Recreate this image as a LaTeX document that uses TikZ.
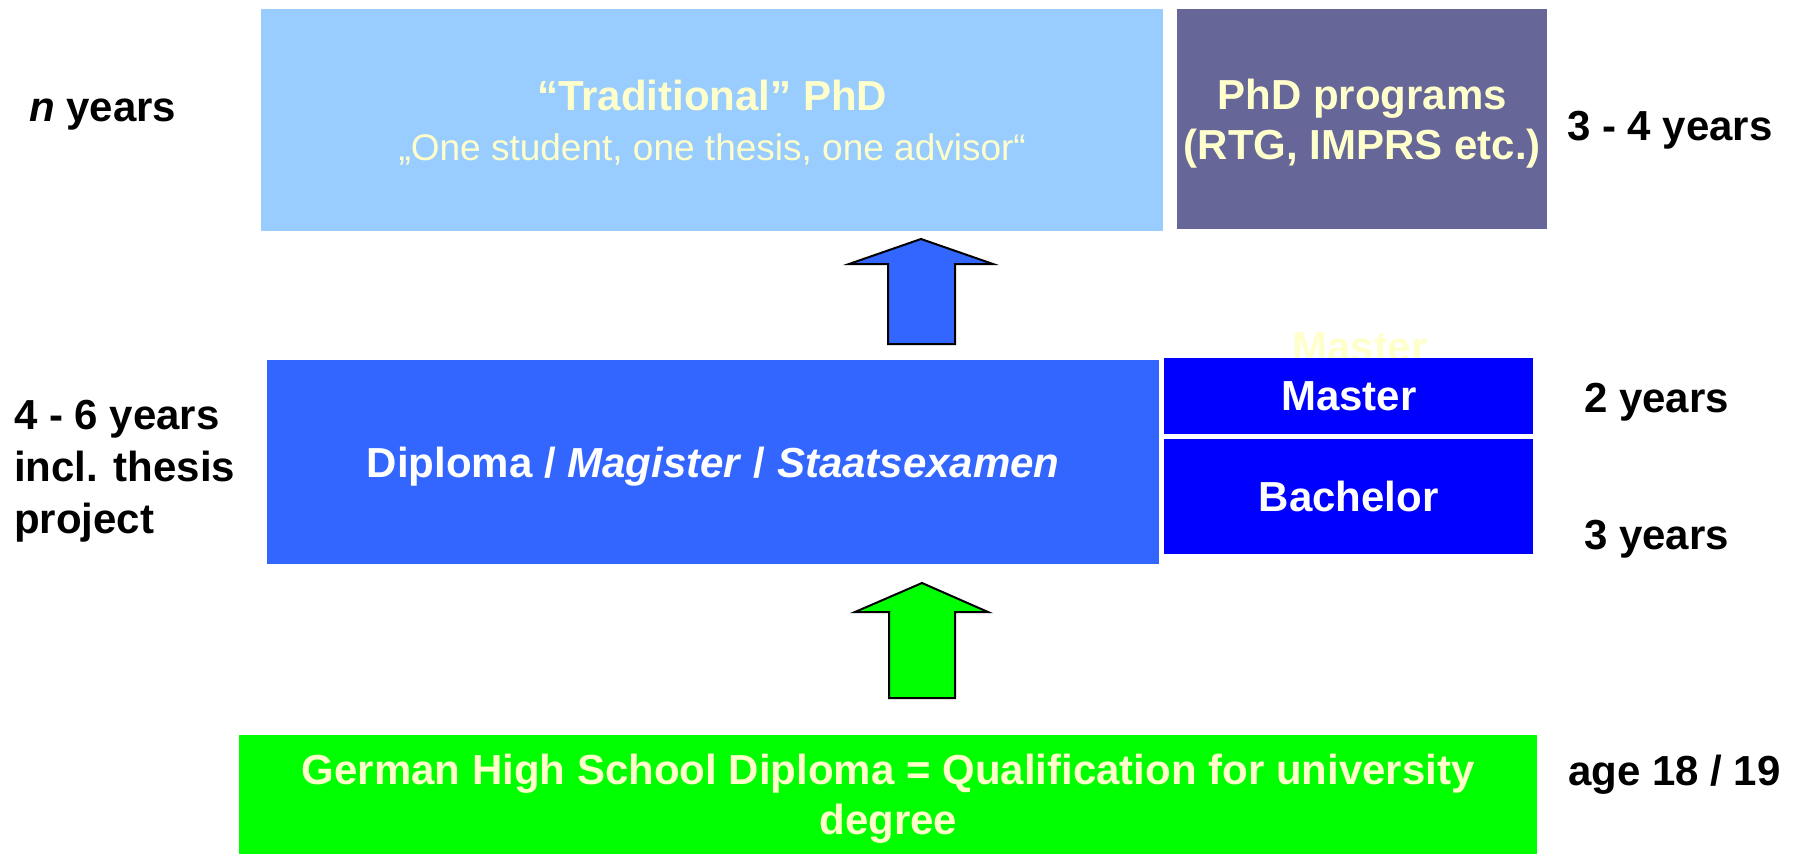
\documentclass[tikz,border=0pt]{standalone}
\usepackage{fontspec}
\setmainfont{Liberation Sans}
\usepackage{tikz}
\usetikzlibrary{positioning}

\definecolor{tradblue}{HTML}{99CCFF}
\definecolor{progpurple}{HTML}{666699}
\definecolor{diplblue}{HTML}{3366FF}
\definecolor{bmblue}{HTML}{0000FF}
\definecolor{schoolgreen}{HTML}{00FF00}
\definecolor{paleyellow}{HTML}{FFFFCC}

\tikzset{
  box/.style={inner sep=0pt, anchor=north west, align=center, text depth=0pt,
    font=\bfseries\fontsize{42}{50}\selectfont},
  yearlabel/.style={inner sep=0pt, align=left, text depth=0pt,
    font=\bfseries\fontsize{42}{52}\selectfont},
  blockarrow/.style={draw=black, line width=2pt, line join=miter},
}

\begin{document}
\begin{tikzpicture}[x=1pt, y=-1pt]
  \useasboundingbox (0,0) rectangle (1796,856);

  % Doctoral phase
  \node[box, fill=tradblue, text=paleyellow, minimum width=902pt, minimum height=222pt] (trad) at (261,9)
    {\fontsize{42}{46}\selectfont “Traditional” PhD\\{\mdseries\fontsize{37}{46}\selectfont „One student, one thesis, one advisor“}};
  \node[box, fill=progpurple, text=paleyellow, minimum width=370pt, minimum height=220pt] (prog) at (1177,9)
    {PhD programs\\(RTG, IMPRS etc.)};

  % First degree
  \node[box, fill=diplblue, text=white, minimum width=892pt, minimum height=204pt] (dipl) at (267,360)
    {Diploma / \textit{Magister} / \textit{Staatsexamen}};
  \node[box, text=paleyellow, anchor=base] (ghost) at (1360,361) {Master};
  \node[box, fill=bmblue, text=white, minimum width=369pt, minimum height=76pt] (master) at (1164,358) {Master};
  \node[box, fill=bmblue, text=white, minimum width=369pt, minimum height=115pt] (bachelor) at (1164,439) {Bachelor};

  % School
  \node[box, fill=schoolgreen, text=paleyellow, minimum width=1298pt, minimum height=119pt] (school) at (239,735)
    {German High School Diploma = Qualification for university\\degree};

  % Block arrows
  \draw[blockarrow, fill=diplblue] (888,344) -- (888,264) -- (849,264) -- (921,239)
    -- (993,264) -- (955,264) -- (955,344) -- cycle;
  \draw[blockarrow, fill=schoolgreen] (889,698) -- (889,612) -- (855,612) -- (922,583)
    -- (988,612) -- (955,612) -- (955,698) -- cycle;

  % Durations
  \node[yearlabel, anchor=base west] (nyears) at (29,122) {\textit{n} years};
  \node[yearlabel, anchor=south west] (diplyears) at (14,534) {4 - 6 years\\incl. thesis\\project};
  \node[yearlabel, anchor=base west] (progyears) at (1567,140) {3 - 4 years};
  \node[yearlabel, anchor=base west] (masteryears) at (1584,412) {2 years};
  \node[yearlabel, anchor=base west] (bachyears) at (1584,549) {3 years};
  \node[yearlabel, anchor=base west] (age) at (1568,785) {age 18 / 19};
\end{tikzpicture}
\end{document}
